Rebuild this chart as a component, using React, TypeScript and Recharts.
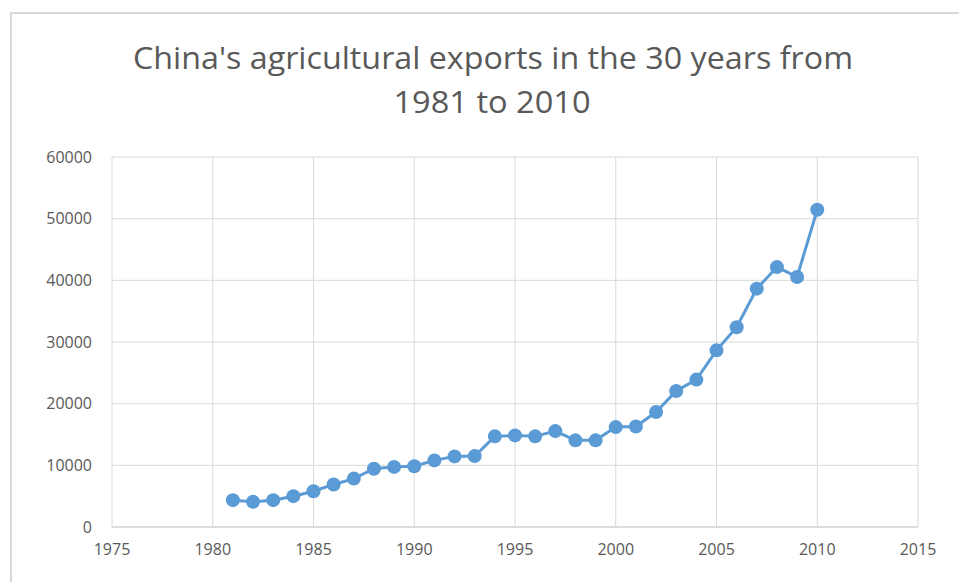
import React from "react";
import {
  LineChart,
  Line,
  XAxis,
  YAxis,
  CartesianGrid,
} from "recharts";

const years = [
  1981, 1982, 1983, 1984, 1985, 1986, 1987, 1988, 1989, 1990,
  1991, 1992, 1993, 1994, 1995, 1996, 1997, 1998, 1999, 2000,
  2001, 2002, 2003, 2004, 2005, 2006, 2007, 2008, 2009, 2010,
];

const exportsValue = [
  4350, 4100, 4350, 5000, 5800, 6900, 7850, 9450, 9750, 9850,
  10800, 11450, 11500, 14700, 14850, 14700, 15550, 14050, 14050, 16200,
  16300, 18650, 22050, 23900, 28650, 32400, 38650, 42150, 40550, 51450,
];

const xTicks = [1975, 1980, 1985, 1990, 1995, 2000, 2005, 2010, 2015];
const yTicks = [0, 10000, 20000, 30000, 40000, 50000, 60000];

const titleLines = [
  "China's agricultural exports in the 30 years from",
  "1981 to 2010",
];

const data = years.map((year, i) => ({ year, value: exportsValue[i] }));

const GRAY = "#d9d9d9";
const TEXT = "#595959";
const BLUE = "#5B9BD5";
const FONT = "'Open Sans', 'Noto Sans', sans-serif";

const App = () => {
  return (
    <div
      style={{
        position: "absolute",
        left: 0,
        top: 0,
        width: 959,
        height: 582,
        background: "#fff",
        overflow: "hidden",
        fontFamily: FONT,
      }}
    >
      <div
        style={{
          position: "absolute",
          left: 10,
          top: 12,
          width: 1000,
          height: 700,
          borderTop: `2px solid ${GRAY}`,
          borderLeft: `2px solid ${GRAY}`,
        }}
      />

      <svg
        width={959}
        height={140}
        style={{ position: "absolute", left: 0, top: 0 }}
      >
        <text
          x={493}
          y={69}
          textAnchor="middle"
          fontSize={31}
          fill={TEXT}
          fontFamily={FONT}
          textLength={720}
          lengthAdjust="spacingAndGlyphs"
        >
          {titleLines[0]}
        </text>
        <text
          x={492}
          y={113}
          textAnchor="middle"
          fontSize={31}
          fill={TEXT}
          fontFamily={FONT}
          textLength={197}
          lengthAdjust="spacingAndGlyphs"
        >
          {titleLines[1]}
        </text>
      </svg>

      <div style={{ position: "absolute", left: 0, top: 0 }}>
        <LineChart
          width={959}
          height={582}
          data={data}
          margin={{ top: 157, right: 41, left: 0, bottom: 0 }}
        >
          <CartesianGrid stroke={GRAY} strokeWidth={1} />
          <XAxis
            dataKey="year"
            type="number"
            domain={[1975, 2015]}
            ticks={xTicks}
            height={55}
            tickSize={0}
            tickMargin={17}
            axisLine={{ stroke: GRAY, strokeWidth: 1.5 }}
            tick={{ fill: TEXT, fontSize: 16, fontFamily: FONT }}
          />
          <YAxis
            type="number"
            domain={[0, 60000]}
            ticks={yTicks}
            width={112}
            tickSize={0}
            tickMargin={20}
            axisLine={false}
            tick={{ fill: TEXT, fontSize: 16, fontFamily: FONT }}
          />
          <Line
            type="linear"
            dataKey="value"
            stroke={BLUE}
            strokeWidth={3}
            dot={{ r: 7, fill: BLUE, stroke: "none" }}
            activeDot={false}
            isAnimationActive={false}
          />
        </LineChart>
      </div>
    </div>
  );
};

export default App;
